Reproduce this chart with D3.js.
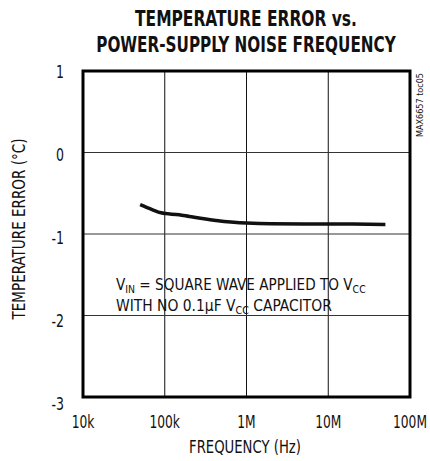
<!DOCTYPE html>
<html><head><meta charset="utf-8">
<script src="https://cdn.jsdelivr.net/npm/d3@7"></script>
<style>
body{margin:0;background:#fff;}
text{font-family:"Liberation Sans Narrow","Arial Narrow","DejaVu Sans Condensed","Liberation Sans",Arial,sans-serif;fill:#111;}
</style></head>
<body><svg id="c" width="430" height="461"></svg>
<script>
const freqs = [50e3, 70e3, 90e3, 150e3, 200e3, 400e3, 700e3, 1e6, 2e6, 5e6, 10e6, 20e6, 50e6];
const errors = [-0.64, -0.70, -0.74, -0.765, -0.785, -0.83, -0.855, -0.865, -0.875, -0.877, -0.877, -0.878, -0.882];
const xTicks = [1e4, 1e5, 1e6, 1e7, 1e8];
const xTickLabels = ["10k", "100k", "1M", "10M", "100M"];
const yTicks = [1, 0, -1, -2, -3];
const titleLines = ["TEMPERATURE ERROR vs.", "POWER-SUPPLY NOISE FREQUENCY"];

const svg = d3.select("#c");
const L = 83, R = 410, T = 71, B = 397;
const x = d3.scaleLog().domain([1e4, 1e8]).range([L, R]);
const y = d3.scaleLinear().domain([-3, 1]).range([B, T]);

function fit(sel, w, anchorX) {
  const bw = sel.node().getBBox().width;
  const s = w / bw;
  sel.attr("transform", `translate(${anchorX},0) scale(${s},1) translate(${-anchorX},0)`);
}
function squeeze(sel, s, ax) {
  sel.each(function(d) {
    const a = ax(d);
    d3.select(this).attr("transform", `translate(${a},0) scale(${s},1) translate(${-a},0)`);
  });
}

// title
titleLines.forEach((t, i) => {
  const el = svg.append("text").attr("x", 246).attr("y", 26 + i * 26)
    .attr("text-anchor", "middle").attr("font-size", 21).attr("font-weight", "bold").text(t);
  fit(el, i === 0 ? 222 : 300, 246);
});

// grid
const g = svg.append("g");
g.selectAll(".vg").data(xTicks.slice(1, -1)).join("line")
  .attr("x1", d => x(d)).attr("x2", d => x(d)).attr("y1", T).attr("y2", B)
  .attr("stroke", "#111").attr("stroke-width", 1);
g.selectAll(".hg").data(yTicks.slice(1, -1)).join("line")
  .attr("x1", L).attr("x2", R).attr("y1", d => y(d)).attr("y2", d => y(d))
  .attr("stroke", "#333").attr("stroke-width", 1);

// curve
svg.append("path").datum(freqs.map((f, i) => [f, errors[i]]))
  .attr("fill", "none").attr("stroke", "#111").attr("stroke-width", 3.5)
  .attr("d", d3.line().x(d => x(d[0])).y(d => y(d[1])).curve(d3.curveMonotoneX));

// frame
svg.append("rect").attr("x", L).attr("y", T).attr("width", R - L).attr("height", B - T)
  .attr("fill", "none").attr("stroke", "#000").attr("stroke-width", 3);

// y tick labels
const yl = svg.selectAll(".yl").data(yTicks).join("text")
  .attr("x", 64).attr("y", (d, i) => y(d) + 7 + i * 1.5).attr("text-anchor", "end")
  .attr("font-size", 17).text(d => d);
squeeze(yl, 0.82, () => 64);

// x tick labels
const xl = svg.selectAll(".xl").data(xTicks).join("text")
  .attr("x", d => x(d)).attr("y", 428).attr("text-anchor", "middle")
  .attr("font-size", 17).text((d, i) => xTickLabels[i]);
squeeze(xl, 0.8, d => x(d));

// axis titles
const xt = svg.append("text").attr("x", 245).attr("y", 453).attr("text-anchor", "middle")
  .attr("font-size", 17).text("FREQUENCY (Hz)");
fit(xt, 112, 245);
const yt = svg.append("text").attr("transform", "translate(25,229) rotate(-90)")
  .attr("text-anchor", "middle").attr("font-size", 17).text("TEMPERATURE ERROR (°C)");
{
  const bw = yt.node().getBBox().width;
  yt.attr("transform", `translate(25,229) rotate(-90) scale(${182 / bw},1)`);
}

// watermark
const wm = svg.append("text").attr("transform", "translate(423,105) rotate(-90)")
  .attr("text-anchor", "middle").attr("font-size", 9).text("MAX6657 toc05");
{
  const bw = wm.node().getBBox().width;
  wm.attr("transform", `translate(423,105) rotate(-90) scale(${64 / bw},1)`);
}

// annotation
const a1 = svg.append("text").attr("x", 116).attr("y", 290).attr("font-size", 16);
a1.append("tspan").text("V");
a1.append("tspan").attr("font-size", 11).attr("dy", 3).text("IN");
a1.append("tspan").attr("dy", -3).text(" = SQUARE WAVE APPLIED TO V");
a1.append("tspan").attr("font-size", 11).attr("dy", 3).text("CC");
fit(a1, 250, 116);
const a2 = svg.append("text").attr("x", 116).attr("y", 311).attr("font-size", 16);
a2.append("tspan").text("WITH NO 0.1\u00B5F V");
a2.append("tspan").attr("font-size", 11).attr("dy", 3).text("CC");
a2.append("tspan").attr("dy", -3).text(" CAPACITOR");
fit(a2, 216, 116);
</script></body></html>
